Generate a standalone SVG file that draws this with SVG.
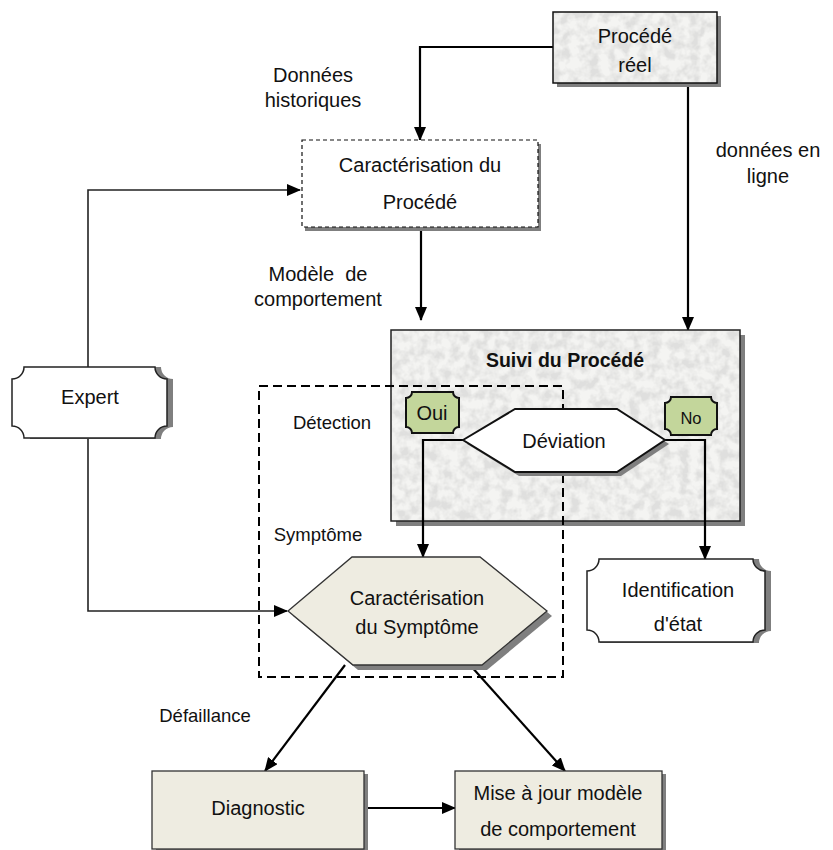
<svg xmlns="http://www.w3.org/2000/svg" width="833" height="850" viewBox="0 0 833 850">
  <defs>
    <style>
      .t { font-family: "Liberation Sans", Arial, sans-serif; font-size: 20px; fill: #111; text-anchor: middle; }
      .sm { font-size: 18.5px; }
      .tb { font-weight: bold; font-size: 19.5px; }
      .shadow { fill: #7f7f7f; stroke: none; }
      .tan { fill: #eeece1; stroke: #333; stroke-width: 1.3; }
      .plain { fill: #fff; stroke: #222; stroke-width: 1.5; }
      .tag { fill: #c3d69b; stroke: #111; stroke-width: 2; }
      .wire { fill: none; stroke: #000; stroke-width: 2.2; }
      .thin { fill: none; stroke: #222; stroke-width: 1.6; }
      .arrow { marker-end: url(#head); }
    </style>
    <marker id="head" viewBox="0 0 14 12" refX="13" refY="6" markerUnits="userSpaceOnUse" markerWidth="14" markerHeight="12" orient="auto">
      <path d="M0,0 L14,6 L0,12 Z" fill="#000"/>
    </marker>
    <!-- grey granite texture for the process boxes -->
    <filter id="granite" x="0" y="0" width="100%" height="100%">
      <feTurbulence type="fractalNoise" baseFrequency="0.1" numOctaves="3" seed="4" result="n"/>
      <feColorMatrix in="n" type="matrix" values="0 0 0 0 0.74  0 0 0 0 0.74  0 0 0 0 0.73  0 0 0 -3 1.9" result="spots"/>
      <feFlood flood-color="#f4f4f2" result="base"/>
      <feComposite in="spots" in2="base" operator="over" result="tex"/>
      <feComposite in="tex" in2="SourceGraphic" operator="in"/>
    </filter>
  </defs>

  <!-- connectors -->
  <g id="connectors">
    <polyline class="wire arrow" points="553,47 420,47 420,140"/>
    <line class="wire arrow" x1="688" y1="83" x2="688" y2="330"/>
    <line class="wire arrow" x1="421" y1="228" x2="421" y2="320"/>
    <polyline class="thin arrow" points="88,367 88,190 300,190"/>
    <polyline class="thin arrow" points="88,438 88,611 287,611"/>
    <line class="wire arrow" x1="345" y1="665" x2="265" y2="771"/>
    <line class="wire arrow" x1="470" y1="665" x2="565" y2="771"/>
    <line class="wire arrow" x1="364" y1="808" x2="455" y2="808"/>
  </g>

  <!-- Procédé réel -->
  <g id="procede-reel">
    <rect class="shadow" x="557" y="16" width="164" height="71"/>
    <rect x="553" y="12" width="164" height="71" fill="#eee" filter="url(#granite)"/>
    <rect x="553" y="12" width="164" height="71" fill="none" stroke="#111" stroke-width="1.5"/>
    <text class="t" x="635" y="43">Procédé</text>
    <text class="t" x="635" y="72">réel</text>
  </g>

  <!-- Caractérisation du Procédé -->
  <g id="caracterisation-procede">
    <rect class="shadow" x="305" y="144" width="236" height="87"/>
    <rect x="302" y="140" width="236" height="87" fill="#fff" stroke="#111" stroke-width="1.2" stroke-dasharray="4,3"/>
    <text class="t" x="420" y="172">Caractérisation du</text>
    <text class="t" x="420" y="209">Procédé</text>
  </g>

  <!-- Suivi du Procédé -->
  <g id="suivi-procede">
    <rect class="shadow" x="396" y="335" width="349" height="191"/>
    <rect x="391" y="330" width="349" height="191" fill="#eee" filter="url(#granite)"/>
    <rect x="391" y="330" width="349" height="191" fill="none" stroke="#222" stroke-width="1.5"/>
    <text class="t tb" x="565" y="367">Suivi du Procédé</text>
  </g>

  <!-- Branch connectors from Déviation -->
  <g id="branch-connectors">
    <polyline class="wire arrow" points="463,440 423,440 423,557"/>
    <polyline class="wire arrow" points="665,440 705,440 705,559"/>
  </g>

  <!-- Détection / Symptôme zone -->
  <g id="zone-detection">
    <rect x="259" y="386" width="304" height="291" fill="none" stroke="#000" stroke-width="2" stroke-dasharray="9,5"/>
    <text class="t sm" x="332" y="429">Détection</text>
    <text class="t sm" x="318" y="541">Symptôme</text>
  </g>

  <!-- Déviation -->
  <g id="deviation">
    <polygon class="shadow" points="467,444 519,413 621,413 669,444 621,476 519,476"/>
    <polygon points="463,440 515,409 617,409 665,440 617,472 515,472" fill="#fff" stroke="#111" stroke-width="2"/>
    <text class="t" x="564" y="448">Déviation</text>
  </g>

  <!-- Oui -->
  <g id="oui">
    <path class="tag" d="M412,392 H453 A6,6 0 0 0 459,398 V427 A6,6 0 0 0 453,433 H412 A6,6 0 0 0 406,427 V398 A6,6 0 0 0 412,392 Z"/>
    <text class="t" x="432" y="420">Oui</text>
  </g>

  <!-- No -->
  <g id="no">
    <path class="tag" d="M671,397 H711 A6,6 0 0 0 717,403 V429 A6,6 0 0 0 711,435 H671 A6,6 0 0 0 665,429 V403 A6,6 0 0 0 671,397 Z"/>
    <text class="t" x="691" y="424" style="font-size:16.5px">No</text>
  </g>

  <!-- Expert -->
  <g id="expert">
    <path class="shadow" d="M30,367 H161 A12,12 0 0 0 173,379 V427 A12,12 0 0 0 161,439 H30 Z"/>
    <path class="plain" d="M24,367 H155 A12,12 0 0 0 167,379 V426 A12,12 0 0 0 155,438 H24 A12,12 0 0 0 12,426 V379 A12,12 0 0 0 24,367 Z"/>
    <text class="t" x="90" y="404">Expert</text>
  </g>

  <!-- Caractérisation du Symptôme -->
  <g id="caracterisation-symptome">
    <polygon class="shadow" points="293,616 357,562 485,562 552,616 487,670 358,670"/>
    <polygon class="tan" points="288,611 352,557 480,557 547,611 482,665 353,665"/>
    <text class="t" x="417" y="605">Caractérisation</text>
    <text class="t" x="417" y="634">du Symptôme</text>
  </g>

  <!-- Identification d'état -->
  <g id="identification">
    <path class="shadow" d="M600,559 H759 A12,12 0 0 0 771,571 V631 A12,12 0 0 0 759,643 H600 Z"/>
    <path class="plain" d="M599,559 H753 A12,12 0 0 0 765,571 V630 A12,12 0 0 0 753,642 H599 A12,12 0 0 0 587,630 V571 A12,12 0 0 0 599,559 Z"/>
    <text class="t" x="678" y="597">Identification</text>
    <text class="t" x="678" y="631">d'état</text>
  </g>

  <!-- Diagnostic -->
  <g id="diagnostic">
    <rect class="shadow" x="156" y="774" width="212" height="80"/>
    <rect class="tan" x="152" y="771" width="212" height="78"/>
    <text class="t" x="258" y="815">Diagnostic</text>
  </g>

  <!-- Mise à jour modèle de comportement -->
  <g id="mise-a-jour">
    <rect class="shadow" x="459" y="774" width="207" height="80"/>
    <rect class="tan" x="455" y="771" width="207" height="78"/>
    <text class="t" x="558" y="800">Mise à jour modèle</text>
    <text class="t" x="558" y="836">de comportement</text>
  </g>

  <!-- free labels -->
  <g id="labels">
    <text class="t" x="313" y="82">Données</text>
    <text class="t" x="313" y="107">historiques</text>
    <text class="t" x="768" y="157">données en</text>
    <text class="t" x="768" y="183">ligne</text>
    <text class="t" x="318" y="281" xml:space="preserve">Modèle  de</text>
    <text class="t" x="318" y="306">comportement</text>
    <text class="t sm" x="205" y="722">Défaillance</text>
  </g>
</svg>
